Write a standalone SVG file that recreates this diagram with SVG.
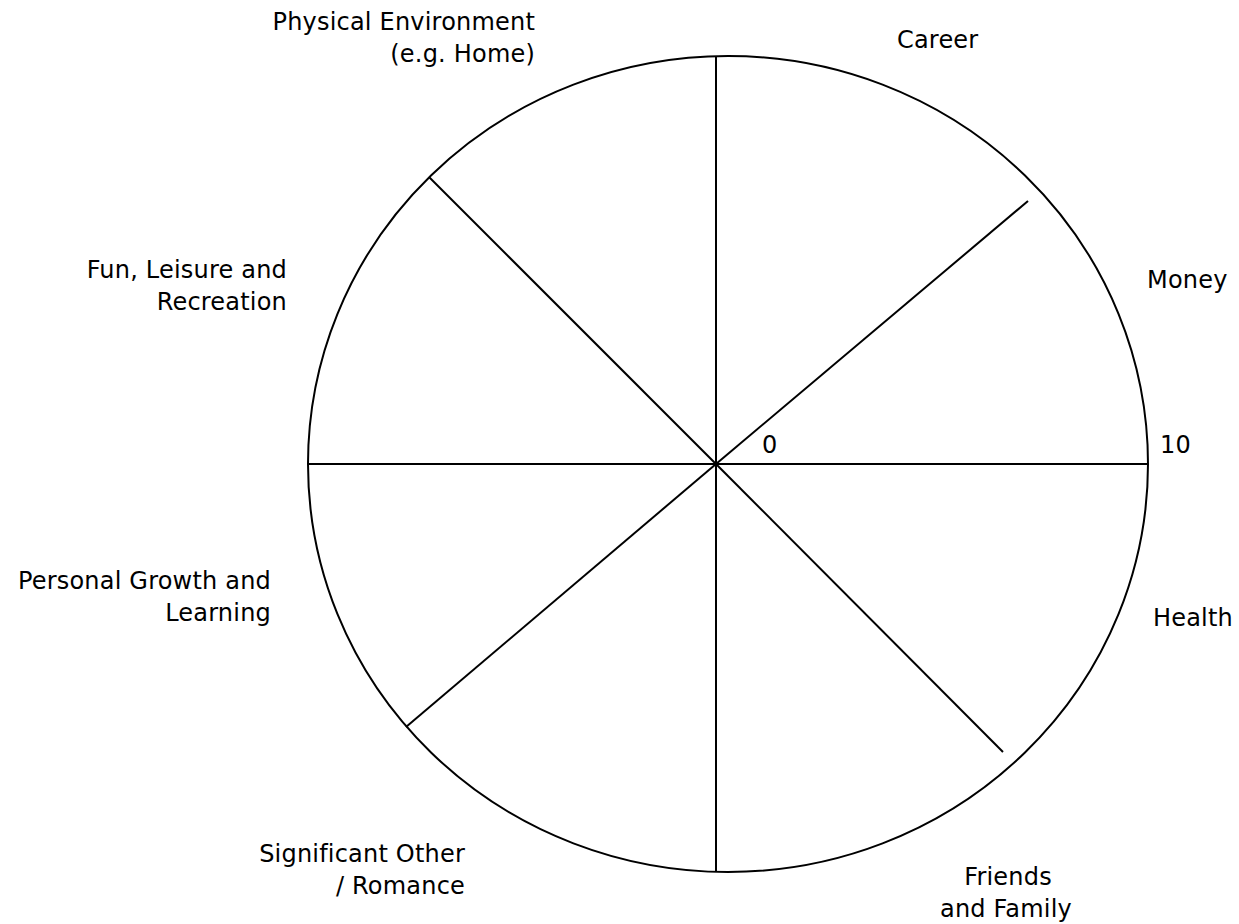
<svg xmlns="http://www.w3.org/2000/svg" width="1239" height="924" viewBox="0 0 1239 924">
<style>
.l{stroke:#000;stroke-width:2;fill:none}
text{font-family:"DejaVu Sans","Noto Sans",sans-serif;font-size:24px;letter-spacing:0.2px;fill:#000}
.e{text-anchor:end}
.m{text-anchor:middle}
</style>
<rect width="1239" height="924" fill="#fff"/>
<g id="wheel">
<ellipse class="l" cx="728" cy="464" rx="420" ry="408"/>
</g>
<g id="spokes">
<line class="l" x1="716" y1="56" x2="716" y2="872"/>
<line class="l" x1="308" y1="464" x2="1148" y2="464"/>
<line class="l" x1="716" y1="464" x2="429" y2="177"/>
<line class="l" x1="716" y1="464" x2="1028" y2="201"/>
<line class="l" x1="716" y1="464" x2="406" y2="727"/>
<line class="l" x1="716" y1="464" x2="1003" y2="752"/>
</g>
<g id="scale">
<text x="762" y="453">0</text>
<text x="1160" y="453">10</text>
</g>
<g id="physical"><text class="e" x="535" y="30">Physical Environment</text><text class="e" x="535" y="62">(e.g. Home)</text></g>
<g id="career"><text x="897" y="48">Career</text></g>
<g id="money"><text x="1147" y="288">Money</text></g>
<g id="fun"><text class="e" x="287" y="278">Fun, Leisure and</text><text class="e" x="287" y="310">Recreation</text></g>
<g id="growth"><text class="e" x="271" y="589">Personal Growth and</text><text class="e" x="271" y="621">Learning</text></g>
<g id="health"><text x="1153" y="626">Health</text></g>
<g id="romance"><text class="e" x="465" y="862">Significant Other</text><text class="e" x="465" y="894">/ Romance</text></g>
<g id="friends"><text class="m" x="1008" y="885">Friends</text><text class="m" x="1006" y="917">and Family</text></g>
</svg>
